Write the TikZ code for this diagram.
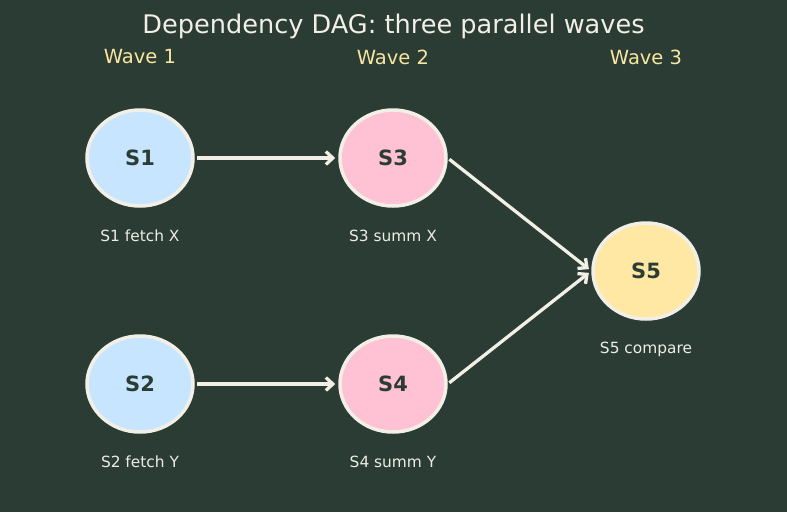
\documentclass[tikz,border=0pt]{standalone}
\usepackage{fontspec}
\setmainfont{DejaVu Sans}
\usetikzlibrary{shapes.geometric,arrows.meta}
\definecolor{bg}{HTML}{2B3C34}
\definecolor{rim}{HTML}{F2EFE6}
\definecolor{sblue}{HTML}{C8E5FF}
\definecolor{spink}{HTML}{FFC2D5}
\definecolor{syel}{HTML}{FFE8A3}
\definecolor{dtext}{HTML}{2B3C34}
\definecolor{wave}{HTML}{F7E6A0}
\definecolor{lbl}{HTML}{ECECE8}
\tikzset{
  stage/.style={ellipse, draw=rim, line width=3.5pt, minimum width=106pt, minimum height=96pt, inner sep=0pt,
    font=\fontsize{21}{25}\selectfont\bfseries, text=dtext},
  caption/.style={font=\fontsize{15.4}{18}\selectfont, text=lbl},
  wavelbl/.style={font=\fontsize{19.5}{23}\selectfont, text=wave},
  link/.style={draw=rim, line width=3.3pt, -{Straight Barb[length=7pt,width=13pt]}, shorten >=3pt, shorten <=2pt},
}
\begin{document}
\begin{tikzpicture}[x=1pt,y=-1pt]
\fill[bg] (0,0) rectangle (787,512);
\useasboundingbox (0,0) rectangle (787,512);
\node[font=\fontsize{25.6}{30}\selectfont, text=rim] (title) at (393.5,26) {Dependency DAG: three parallel waves};
\node[wavelbl] (w1) at (140,57) {Wave 1};
\node[wavelbl] (w2) at (393,57) {Wave 2};
\node[wavelbl] (w3) at (646,57) {Wave 3};
\node[stage, fill=sblue] (s1) at (140,158) {S1};
\node[stage, fill=sblue] (s2) at (140,384) {S2};
\node[stage, fill=spink] (s3) at (393,158) {S3};
\node[stage, fill=spink] (s4) at (393,384) {S4};
\node[stage, fill=syel] (s5) at (646,271) {S5};
\node[caption] (c1) at (140,236) {S1 fetch X};
\node[caption] (c2) at (140,462) {S2 fetch Y};
\node[caption] (c3) at (393,236) {S3 summ X};
\node[caption] (c4) at (393,462) {S4 summ Y};
\node[caption] (c5) at (646,349) {S5 compare};
\draw[link] (s1.east) -- (s3.west);
\draw[link] (s2.east) -- (s4.west);
\draw[link] (s3.east) -- (s5.west);
\draw[link] (s4.east) -- (s5.west);
\end{tikzpicture}
\end{document}
